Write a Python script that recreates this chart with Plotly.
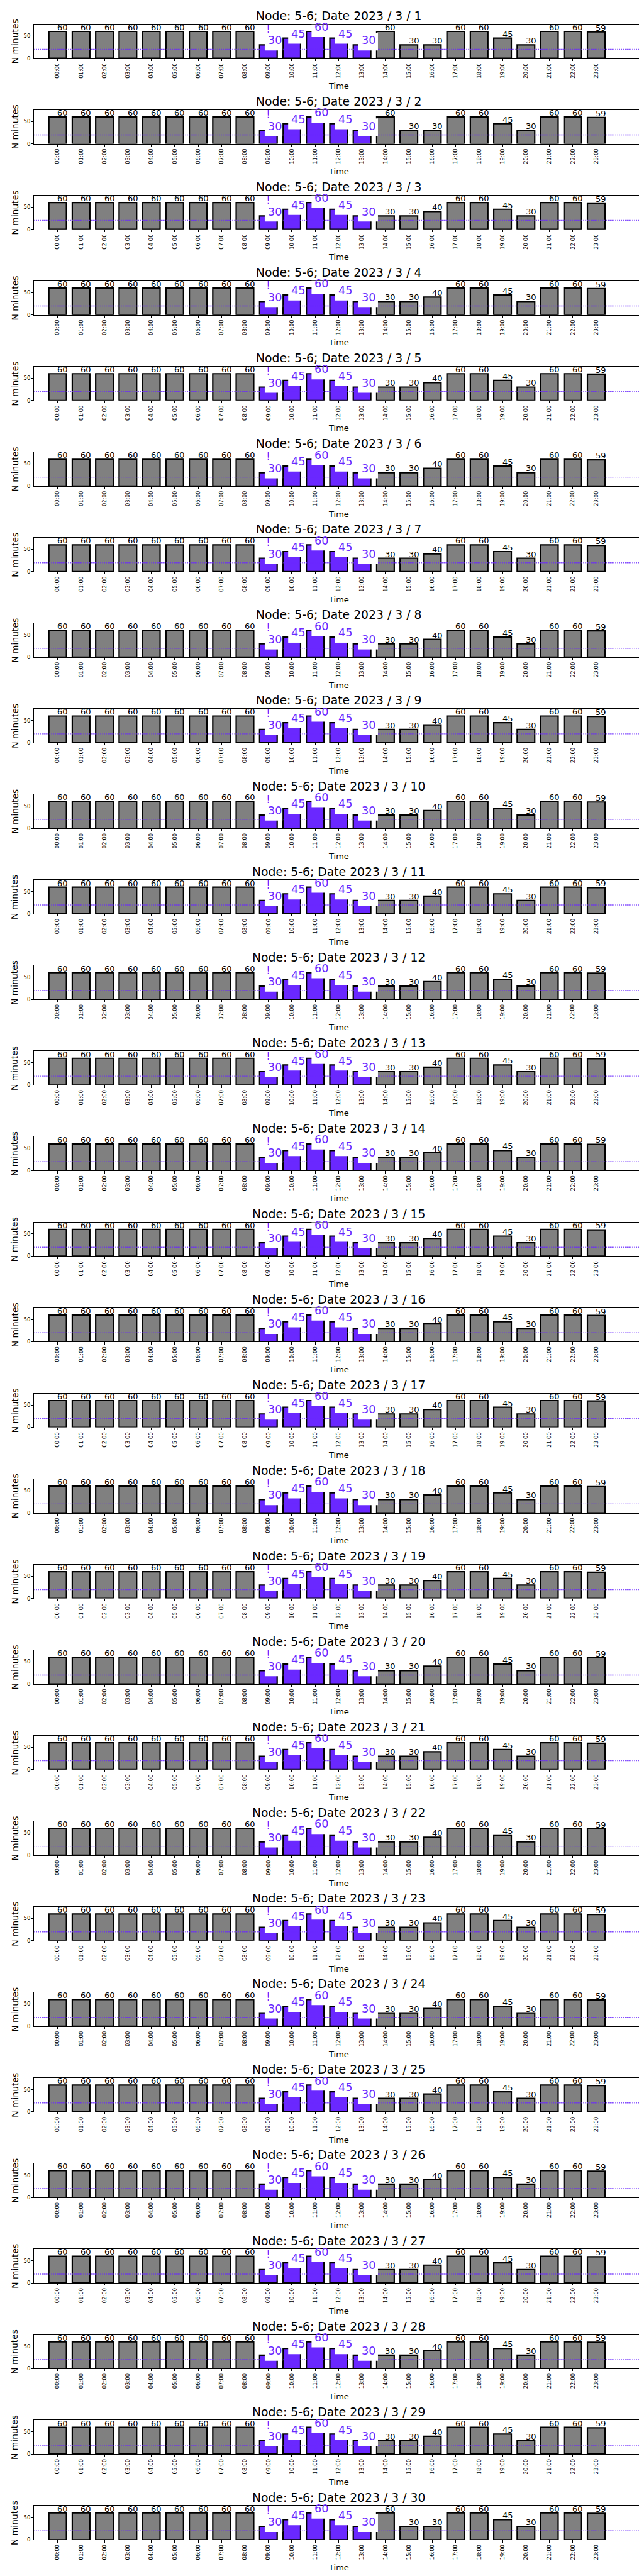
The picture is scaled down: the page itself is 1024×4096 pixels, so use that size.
import plotly.graph_objects as go

# ---------------- data ----------------
hour_labels = ["00:00", "01:00", "02:00", "03:00", "04:00", "05:00", "06:00", "07:00",
               "08:00", "09:00", "10:00", "11:00", "12:00", "13:00", "14:00", "15:00",
               "16:00", "17:00", "18:00", "19:00", "20:00", "21:00", "22:00", "23:00"]
anomaly_hours = ["09:00", "10:00", "11:00", "12:00", "13:00"]
threshold = 20
node = "5-6"
year, month = 2023, 3
day_numbers = list(range(1, 31))

d01 = [60, 60, 60, 60, 60, 60, 60, 60, 60, 30, 45, 60, 45, 30, 60, 30, 30, 60, 60, 45, 30, 60, 60, 59]
d02 = [60, 60, 60, 60, 60, 60, 60, 60, 60, 30, 45, 60, 45, 30, 60, 30, 30, 60, 60, 45, 30, 60, 60, 59]
d03 = [60, 60, 60, 60, 60, 60, 60, 60, 60, 30, 45, 60, 45, 30, 30, 30, 40, 60, 60, 45, 30, 60, 60, 59]
d04 = [60, 60, 60, 60, 60, 60, 60, 60, 60, 30, 45, 60, 45, 30, 30, 30, 40, 60, 60, 45, 30, 60, 60, 59]
d05 = [60, 60, 60, 60, 60, 60, 60, 60, 60, 30, 45, 60, 45, 30, 30, 30, 40, 60, 60, 45, 30, 60, 60, 59]
d06 = [60, 60, 60, 60, 60, 60, 60, 60, 60, 30, 45, 60, 45, 30, 30, 30, 40, 60, 60, 45, 30, 60, 60, 59]
d07 = [60, 60, 60, 60, 60, 60, 60, 60, 60, 30, 45, 60, 45, 30, 30, 30, 40, 60, 60, 45, 30, 60, 60, 59]
d08 = [60, 60, 60, 60, 60, 60, 60, 60, 60, 30, 45, 60, 45, 30, 30, 30, 40, 60, 60, 45, 30, 60, 60, 59]
d09 = [60, 60, 60, 60, 60, 60, 60, 60, 60, 30, 45, 60, 45, 30, 30, 30, 40, 60, 60, 45, 30, 60, 60, 59]
d10 = [60, 60, 60, 60, 60, 60, 60, 60, 60, 30, 45, 60, 45, 30, 30, 30, 40, 60, 60, 45, 30, 60, 60, 59]
d11 = [60, 60, 60, 60, 60, 60, 60, 60, 60, 30, 45, 60, 45, 30, 30, 30, 40, 60, 60, 45, 30, 60, 60, 59]
d12 = [60, 60, 60, 60, 60, 60, 60, 60, 60, 30, 45, 60, 45, 30, 30, 30, 40, 60, 60, 45, 30, 60, 60, 59]
d13 = [60, 60, 60, 60, 60, 60, 60, 60, 60, 30, 45, 60, 45, 30, 30, 30, 40, 60, 60, 45, 30, 60, 60, 59]
d14 = [60, 60, 60, 60, 60, 60, 60, 60, 60, 30, 45, 60, 45, 30, 30, 30, 40, 60, 60, 45, 30, 60, 60, 59]
d15 = [60, 60, 60, 60, 60, 60, 60, 60, 60, 30, 45, 60, 45, 30, 30, 30, 40, 60, 60, 45, 30, 60, 60, 59]
d16 = [60, 60, 60, 60, 60, 60, 60, 60, 60, 30, 45, 60, 45, 30, 30, 30, 40, 60, 60, 45, 30, 60, 60, 59]
d17 = [60, 60, 60, 60, 60, 60, 60, 60, 60, 30, 45, 60, 45, 30, 30, 30, 40, 60, 60, 45, 30, 60, 60, 59]
d18 = [60, 60, 60, 60, 60, 60, 60, 60, 60, 30, 45, 60, 45, 30, 30, 30, 40, 60, 60, 45, 30, 60, 60, 59]
d19 = [60, 60, 60, 60, 60, 60, 60, 60, 60, 30, 45, 60, 45, 30, 30, 30, 40, 60, 60, 45, 30, 60, 60, 59]
d20 = [60, 60, 60, 60, 60, 60, 60, 60, 60, 30, 45, 60, 45, 30, 30, 30, 40, 60, 60, 45, 30, 60, 60, 59]
d21 = [60, 60, 60, 60, 60, 60, 60, 60, 60, 30, 45, 60, 45, 30, 30, 30, 40, 60, 60, 45, 30, 60, 60, 59]
d22 = [60, 60, 60, 60, 60, 60, 60, 60, 60, 30, 45, 60, 45, 30, 30, 30, 40, 60, 60, 45, 30, 60, 60, 59]
d23 = [60, 60, 60, 60, 60, 60, 60, 60, 60, 30, 45, 60, 45, 30, 30, 30, 40, 60, 60, 45, 30, 60, 60, 59]
d24 = [60, 60, 60, 60, 60, 60, 60, 60, 60, 30, 45, 60, 45, 30, 30, 30, 40, 60, 60, 45, 30, 60, 60, 59]
d25 = [60, 60, 60, 60, 60, 60, 60, 60, 60, 30, 45, 60, 45, 30, 30, 30, 40, 60, 60, 45, 30, 60, 60, 59]
d26 = [60, 60, 60, 60, 60, 60, 60, 60, 60, 30, 45, 60, 45, 30, 30, 30, 40, 60, 60, 45, 30, 60, 60, 59]
d27 = [60, 60, 60, 60, 60, 60, 60, 60, 60, 30, 45, 60, 45, 30, 30, 30, 40, 60, 60, 45, 30, 60, 60, 59]
d28 = [60, 60, 60, 60, 60, 60, 60, 60, 60, 30, 45, 60, 45, 30, 30, 30, 40, 60, 60, 45, 30, 60, 60, 59]
d29 = [60, 60, 60, 60, 60, 60, 60, 60, 60, 30, 45, 60, 45, 30, 30, 30, 40, 60, 60, 45, 30, 60, 60, 59]
d30 = [60, 60, 60, 60, 60, 60, 60, 60, 60, 30, 45, 60, 45, 30, 60, 30, 30, 60, 60, 45, 30, 60, 60, 59]

daily_minutes = [d01, d02, d03, d04, d05, d06, d07, d08, d09, d10,
                 d11, d12, d13, d14, d15, d16, d17, d18, d19, d20,
                 d21, d22, d23, d24, d25, d26, d27, d28, d29, d30]

# ---------------- style / layout ----------------
W, H = 1024, 4096
REF_H = 6000.0
PURPLE = "#6a28ff"
GREY = "#808080"
FONT = "DejaVu Sans"

plot_left, plot_right = 68 / 1500.0, 1486 / 1500.0
first_top, period, plot_h = 45.0, 199.55, 79.0

fig = go.Figure()
layout_axes = {}
shapes = []
annotations = []

x_idx = list(range(len(hour_labels)))
anomaly_idx = [hour_labels.index(h) for h in anomaly_hours]

for k, (day, vals) in enumerate(zip(day_numbers, daily_minutes)):
    n = k + 1
    xa = "x" if n == 1 else f"x{n}"
    ya = "y" if n == 1 else f"y{n}"
    top = first_top + period * k
    bot = top + plot_h
    dom = [1 - bot / REF_H, 1 - top / REF_H]

    gx = [i for i in x_idx if i not in anomaly_idx]
    gy = [vals[i] for i in gx]
    ax_ = anomaly_idx
    ay = [vals[i] for i in ax_]

    fig.add_trace(go.Bar(x=gx, y=gy, width=0.75, marker=dict(color=GREY, line=dict(color="#000000", width=2.2)),
                         xaxis=xa, yaxis=ya, showlegend=False, hoverinfo="skip"))
    fig.add_trace(go.Bar(x=ax_, y=ay, width=0.75, marker=dict(color=PURPLE, line=dict(color="#000000", width=2.2)),
                         xaxis=xa, yaxis=ya, showlegend=False, hoverinfo="skip"))

    layout_axes["xaxis" if n == 1 else f"xaxis{n}"] = dict(
        domain=[plot_left, plot_right], anchor=ya, range=[-1, 25],
        tickmode="array", tickvals=x_idx, ticktext=hour_labels, tickangle=-90,
        ticks="outside", ticklen=3.4, tickwidth=0.8, tickcolor="black",
        tickfont=dict(family=FONT, size=8.5, color="black"),
        showline=True, mirror=True, linecolor="black", linewidth=0.8,
        showgrid=False, zeroline=False, fixedrange=True)
    layout_axes["yaxis" if n == 1 else f"yaxis{n}"] = dict(
        domain=dom, anchor=xa, range=[0, 76],
        tickmode="array", tickvals=[0, 50], ticktext=["0", "50"],
        ticks="outside", ticklen=3.4, tickwidth=0.8, tickcolor="black",
        tickfont=dict(family=FONT, size=8.5, color="black"),
        showline=True, mirror=True, linecolor="black", linewidth=0.8,
        showgrid=False, zeroline=False, fixedrange=True)

    # threshold line
    shapes.append(dict(type="line", xref=f"{xa} domain", yref=ya, x0=0, x1=1, y0=threshold, y1=threshold,
                       line=dict(color=PURPLE, width=1.4, dash="1.4px,1.6px"), layer="above"))

    # title and axis titles
    annotations.append(dict(text=f"Node: {node}; Date {year} / {month} / {day}", xref=f"{xa} domain", yref=f"{ya} domain",
                            x=0.5, y=1, xanchor="center", yanchor="bottom", yshift=1.7, showarrow=False,
                            font=dict(family=FONT, size=18.8, color="black"), borderpad=0))
    annotations.append(dict(text="Time", xref=f"{xa} domain", yref=f"{ya} domain",
                            x=0.5, y=0, xanchor="center", yanchor="top", yshift=-35.7, showarrow=False,
                            font=dict(family=FONT, size=13, color="black"), borderpad=0))
    annotations.append(dict(text="N minutes", xref="paper", yref=f"{ya} domain",
                            x=15.7 / W, y=0.5, xanchor="center", yanchor="middle", textangle=-90, showarrow=False,
                            font=dict(family=FONT, size=13.9, color="black"), borderpad=0))

    # grey bar labels
    for i in gx:
        annotations.append(dict(text=str(vals[i]), xref=xa, yref=ya, x=i, y=vals[i],
                                xanchor="left", yanchor="bottom", xshift=-1.5, yshift=-1.9, showarrow=False,
                                font=dict(family=FONT, size=13, color="black"), borderpad=0))

    # anomaly marker + labels with white boxes
    annotations.append(dict(text="!", xref=xa, yref=ya, x=anomaly_idx[0], y=vals[anomaly_idx[0]],
                            xanchor="center", yanchor="bottom", yshift=14.3, showarrow=False,
                            font=dict(family=FONT, size=17.7, color=PURPLE), borderpad=0))
    for j, i in enumerate(anomaly_idx):
        nxt_anom = (i + 1) in anomaly_idx
        shapes.append(dict(type="rect", xref=xa, yref=ya, xsizemode="pixel", ysizemode="pixel",
                           xanchor=i, yanchor=vals[i], x0=-5.8, x1=(22.4 if nxt_anom else 25.3),
                           y0=-8.9, y1=19.1, fillcolor="white", line=dict(width=0), layer="above"))
        annotations.append(dict(text=str(vals[i]), xref=xa, yref=ya, x=i, y=vals[i],
                                xanchor="left", yanchor="bottom", xshift=-1.8, yshift=-4.2, showarrow=False,
                                font=dict(family=FONT, size=17.7, color=PURPLE), borderpad=0))

fig.update_layout(width=W, height=H, margin=dict(l=0, r=0, t=0, b=0),
                  paper_bgcolor="white", plot_bgcolor="white", showlegend=False,
                  barmode="overlay", shapes=shapes, annotations=annotations,
                  font=dict(family=FONT), **layout_axes)

fig.write_html("out.html")
